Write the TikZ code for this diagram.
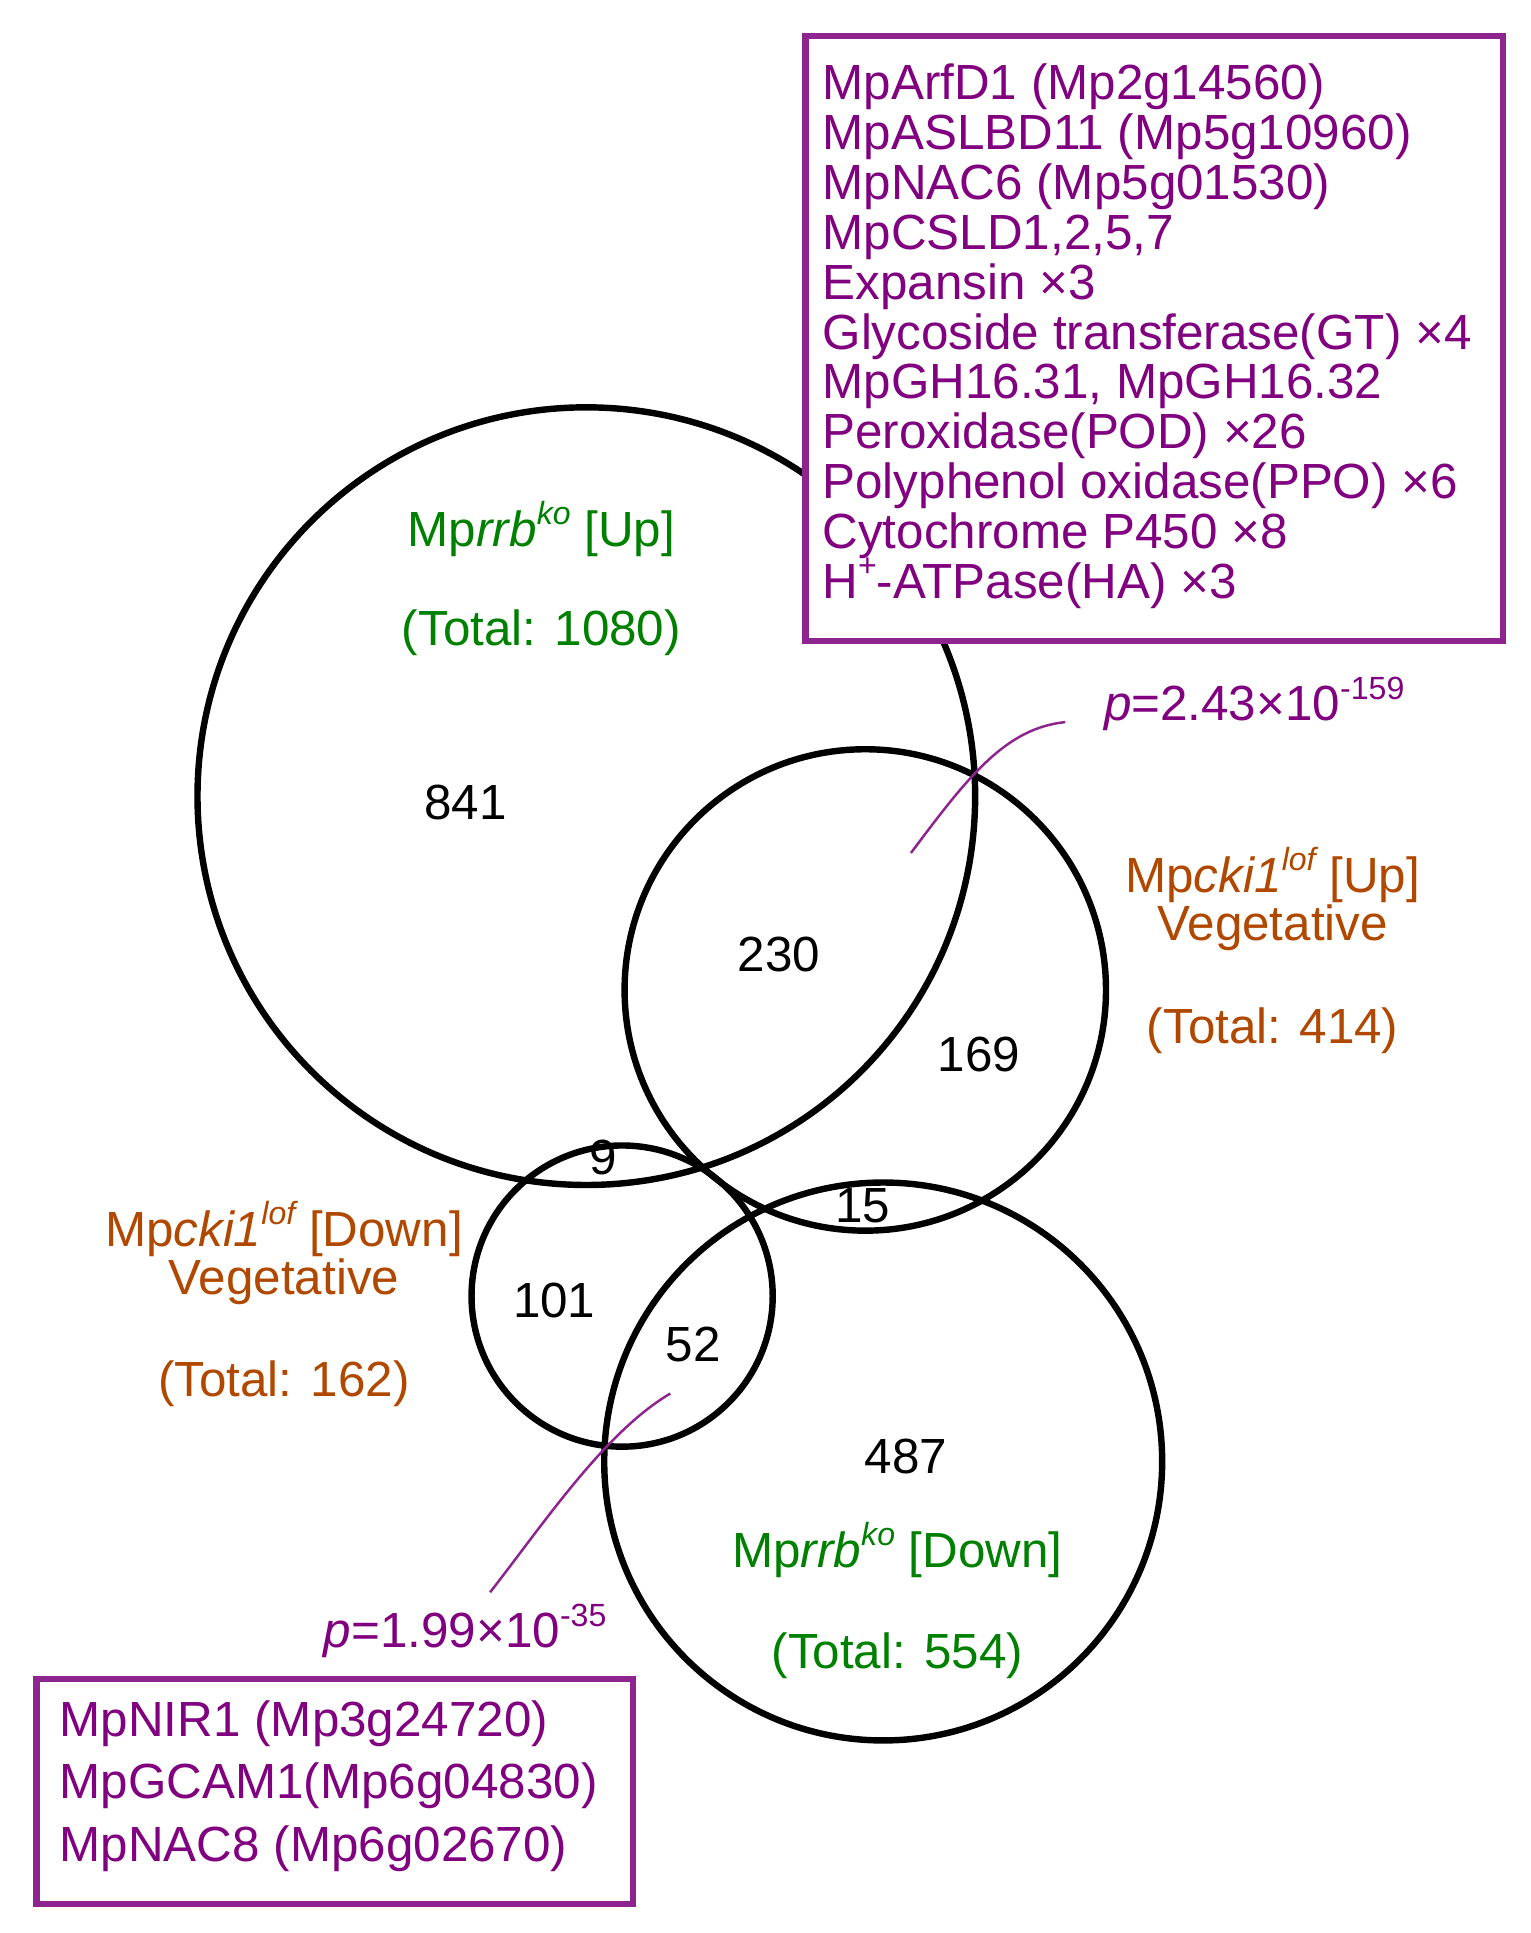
\documentclass[tikz,border=0pt]{standalone}
\usepackage{fontspec}
\setmainfont{Liberation Sans}
\definecolor{vgreen}{RGB}{0,128,0}
\definecolor{vorange}{RGB}{176,72,0}
\definecolor{vpurple}{RGB}{128,0,128}
\definecolor{vborder}{RGB}{142,36,142}
\newcommand\supt[1]{\raisebox{0.44em}{\fontsize{13}{13}\selectfont #1}}
\begin{document}
\begin{tikzpicture}[x=0.5pt,y=-0.5pt,
  lbl/.style={inner sep=0, anchor=base, font=\fontsize{20}{20.2}\selectfont},
  num/.style={lbl, text=black},
  glbl/.style={lbl, text=vgreen},
  olbl/.style={lbl, text=vorange},
  plbl/.style={lbl, anchor=base west, text=vpurple},
  venn/.style={circle, draw=black, line width=2.6pt, inner sep=0},
  gbox/.style={rectangle, draw=vborder, fill=white, line width=2.5pt, inner sep=0, anchor=north west},
  ptr/.style={draw=vborder, line width=1pt}]
\useasboundingbox (0,0) rectangle (1240,1566);
% circles
\node[venn, minimum size=315pt] (rrbup) at (475,645) {};
\node[venn, minimum size=195pt] (ckiup) at (701,802) {};
\node[venn, minimum size=122pt] (ckidn) at (504,1050) {};
\node[venn, minimum size=226pt] (rrbdn) at (715.5,1184) {};
% numbers
\node[num] (n841) at (377,664) {841};
\node[num] (n230) at (631,787) {230};
\node[num] (n169) at (793,868) {169};
\node[num] (n9) at (489,951.5) {9};
\node[num] (n15) at (699,990) {15};
\node[num] (n101) at (449,1067.5) {101};
\node[num] (n52) at (561.5,1103) {52};
\node[num] (n487) at (734,1194) {487};
% set labels
\node[glbl] (lru1) at (438.6,442.7) {Mp\textit{rrb}\supt{\itshape ko} [Up]};
\node[glbl] (lru2) at (438.6,523) {(Total: 1080)};
\node[glbl] (lrd1) at (727,1270) {Mp\textit{rrb}\supt{\itshape ko} [Down]};
\node[glbl] (lrd2) at (727,1351.5) {(Total: 554)};
\node[olbl] (lcu1) at (1031,723) {Mp\textit{cki1}\supt{\itshape lof} [Up]};
\node[olbl] (lcu2) at (1031,762) {Vegetative};
\node[olbl] (lcu3) at (1031,845) {(Total: 414)};
\node[olbl] (lcd1) at (230,1009.5) {Mp\textit{cki1}\supt{\itshape lof} [Down]};
\node[olbl] (lcd2) at (230,1049) {Vegetative};
\node[olbl] (lcd3) at (230,1131) {(Total: 162)};
% p values
\node[plbl] (pup) at (894,584) {\textit{p}=2.43×10\supt{-159}};
\node[plbl] (pdn) at (262,1335) {\textit{p}=1.99×10\supt{-35}};
\coordinate (pua) at (738,691);
\coordinate (pub) at (863,585);
\coordinate (pda) at (397,1290);
\coordinate (pdb) at (543,1129);
\draw[ptr] (pua) .. controls (785,628) and (815,590) .. (pub);
\draw[ptr] (pda) .. controls (440,1235) and (490,1160) .. (pdb);
% top gene box
\node[gbox, minimum width=282.5pt, minimum height=245pt] (topbox) at (650,27) {};
\foreach \t [count=\i from 0] in {MpArfD1 (Mp2g14560), MpASLBD11 (Mp5g10960), MpNAC6 (Mp5g01530), {MpCSLD1,2,5,7}, Expansin ×3, Glycoside transferase(GT) ×4, {MpGH16.31, MpGH16.32}, Peroxidase(POD) ×26, Polyphenol oxidase(PPO) ×6, Cytochrome P450 ×8, H\supt{+}-ATPase(HA) ×3}
  \node[plbl] (tg\i) at (666,{80.5+40.45*\i}) {\t};
% bottom gene box
\node[gbox, minimum width=241.5pt, minimum height=91pt] (botbox) at (27,1358) {};
\node[plbl] (bg0) at (48,1406.6) {MpNIR1 (Mp3g24720)};
\node[plbl] (bg1) at (48,1457.2) {MpGCAM1(Mp6g04830)};
\node[plbl] (bg2) at (48,1507.8) {MpNAC8 (Mp6g02670)};
\end{tikzpicture}
\end{document}
